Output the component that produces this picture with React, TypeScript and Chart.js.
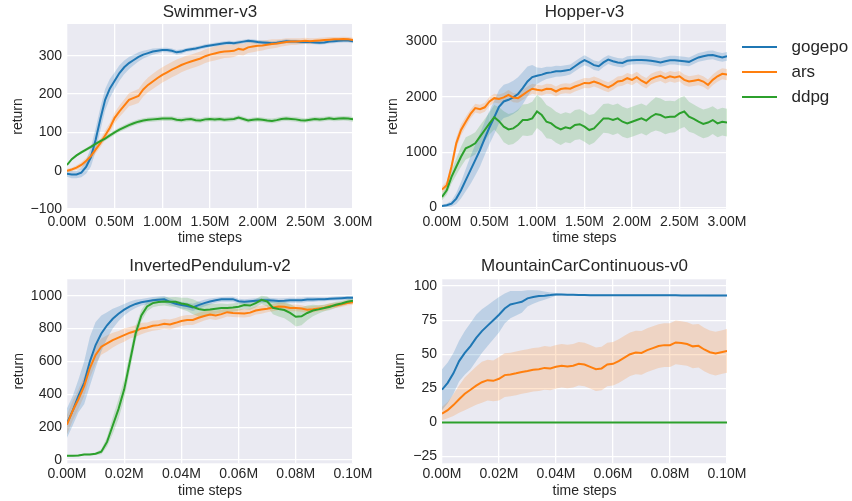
import React, { useEffect, useRef } from 'react';
import { Chart, registerables } from 'chart.js';

Chart.register(...registerables);

// ---------------- data ----------------
const SERIES_NAMES = ['gogepo', 'ars', 'ddpg'];

const TOP_STEPS = [0, 0.05, 0.1, 0.15, 0.2, 0.25, 0.3, 0.35, 0.4, 0.45, 0.5, 0.55, 0.6, 0.65, 0.7, 0.75, 0.8, 0.85, 0.9, 0.95, 1, 1.05, 1.1, 1.15, 1.2, 1.25, 1.3, 1.35, 1.4, 1.45, 1.5, 1.55, 1.6, 1.65, 1.7, 1.75, 1.8, 1.85, 1.9, 1.95, 2, 2.05, 2.1, 2.15, 2.2, 2.25, 2.3, 2.35, 2.4, 2.45, 2.5, 2.55, 2.6, 2.65, 2.7, 2.75, 2.8, 2.85, 2.9, 2.95, 3];
const BOTTOM_STEPS = [0, 0.002, 0.004, 0.006, 0.008, 0.01, 0.012, 0.014, 0.016, 0.018, 0.02, 0.022, 0.024, 0.026, 0.028, 0.03, 0.032, 0.034, 0.036, 0.038, 0.04, 0.042, 0.044, 0.046, 0.048, 0.05, 0.052, 0.054, 0.056, 0.058, 0.06, 0.062, 0.064, 0.066, 0.068, 0.07, 0.072, 0.074, 0.076, 0.078, 0.08, 0.082, 0.084, 0.086, 0.088, 0.09, 0.092, 0.094, 0.096, 0.098, 0.1];

const TOP_X_TICKS = [0, 0.5, 1, 1.5, 2, 2.5, 3];
const BOTTOM_X_TICKS = [0, 0.02, 0.04, 0.06, 0.08, 0.1];
const SWIM_Y_TICKS = [-100, 0, 100, 200, 300];
const HOP_Y_TICKS = [0, 1000, 2000, 3000];
const PEND_Y_TICKS = [0, 200, 400, 600, 800, 1000];
const MC_Y_TICKS = [-25, 0, 25, 50, 75, 100];

// Swimmer-v3
const SWIM_GOGEPO = [-8, -10, -10, -5, 10, 35, 80, 135, 185, 215, 235, 255, 270, 281, 289, 297, 303, 307, 311, 313, 315, 315, 313, 309, 311, 315, 317, 319, 322, 325, 327, 329, 331, 333, 334, 333, 335, 337, 339, 338, 336, 335, 334, 333, 334, 336, 338, 337, 337, 336, 336, 336, 335, 334, 335, 337, 338, 339, 340, 340, 338];
const SWIM_GOGEPO_SD = [8, 10, 10, 12, 18, 25, 30, 30, 28, 25, 22, 20, 18, 16, 14, 12, 10, 9, 8, 7, 6, 6, 6, 6, 6, 5, 5, 5, 5, 5, 5, 5, 5, 5, 5, 5, 5, 5, 5, 5, 5, 5, 5, 5, 5, 5, 5, 5, 5, 5, 5, 5, 5, 5, 5, 5, 5, 5, 5, 5, 5];
const SWIM_ARS = [0, 3, 8, 15, 25, 38, 55, 72, 92, 112, 138, 155, 170, 185, 190, 195, 212, 224, 233, 242, 250, 257, 264, 270, 276, 281, 285, 289, 293, 299, 303, 306, 309, 311, 312, 313, 318, 316, 322, 324, 326, 327, 329, 331, 332, 334, 336, 337, 337, 338, 339, 338, 339, 340, 341, 342, 343, 343, 344, 343, 341];
const SWIM_ARS_SD = [5, 5, 6, 7, 8, 9, 10, 11, 12, 13, 14, 15, 16, 17, 18, 18, 18, 19, 20, 20, 20, 20, 20, 20, 19, 19, 18, 18, 18, 18, 18, 18, 18, 17, 17, 16, 16, 15, 15, 15, 14, 13, 12, 12, 11, 10, 10, 9, 9, 8, 8, 8, 7, 7, 7, 7, 6, 6, 6, 6, 6];
const SWIM_DDPG = [15, 30, 40, 48, 55, 62, 70, 77, 84, 92, 100, 107, 113, 119, 124, 128, 131, 133, 134, 135, 136, 136, 136, 133, 132, 134, 135, 132, 131, 134, 135, 134, 135, 133, 134, 135, 139, 135, 131, 133, 134, 133, 131, 130, 132, 135, 136, 135, 134, 132, 131, 133, 135, 134, 135, 137, 135, 136, 137, 136, 134];
const SWIM_DDPG_SD = [3, 3, 3, 4, 4, 5, 5, 6, 6, 6, 6, 6, 6, 6, 6, 6, 6, 6, 6, 6, 6, 6, 6, 6, 6, 6, 6, 6, 6, 6, 6, 6, 6, 6, 6, 6, 6, 6, 6, 6, 6, 6, 6, 6, 6, 6, 6, 6, 6, 6, 6, 6, 6, 6, 6, 6, 6, 6, 6, 6, 6];

// Hopper-v3
const HOP_GOGEPO = [30, 42, 72, 163, 314, 495, 676, 858, 1040, 1250, 1450, 1630, 1820, 1915, 1945, 1990, 2050, 2155, 2275, 2355, 2380, 2400, 2430, 2440, 2460, 2460, 2475, 2490, 2550, 2610, 2660, 2620, 2570, 2550, 2620, 2670, 2640, 2620, 2610, 2650, 2660, 2665, 2665, 2660, 2650, 2635, 2620, 2640, 2660, 2660, 2650, 2640, 2630, 2670, 2710, 2730, 2750, 2755, 2730, 2710, 2730];
const HOP_GOGEPO_SD = [20, 30, 50, 100, 150, 200, 250, 280, 300, 300, 300, 300, 300, 300, 300, 300, 300, 290, 270, 220, 150, 120, 110, 100, 100, 95, 95, 90, 90, 90, 90, 85, 85, 85, 85, 80, 80, 80, 80, 80, 80, 80, 80, 80, 80, 80, 80, 80, 80, 80, 80, 80, 80, 80, 80, 80, 80, 80, 80, 80, 80];
const HOP_ARS = [326, 405, 737, 1160, 1400, 1550, 1690, 1795, 1775, 1810, 1915, 1975, 1960, 1990, 2035, 1985, 1975, 2035, 2095, 2145, 2125, 2115, 2145, 2140, 2095, 2140, 2155, 2145, 2185, 2215, 2250, 2245, 2275, 2245, 2205, 2170, 2215, 2275, 2290, 2335, 2305, 2355, 2290, 2245, 2320, 2355, 2380, 2335, 2370, 2350, 2370, 2305, 2275, 2290, 2305, 2275, 2215, 2305, 2370, 2415, 2400];
const HOP_ARS_SD = [60, 70, 90, 100, 100, 90, 80, 80, 80, 80, 80, 80, 80, 80, 85, 85, 85, 90, 90, 90, 90, 90, 90, 90, 90, 90, 90, 90, 90, 90, 90, 90, 90, 90, 90, 90, 90, 90, 90, 95, 95, 95, 95, 95, 95, 95, 95, 95, 95, 95, 95, 95, 95, 95, 95, 95, 95, 95, 100, 100, 100];
const HOP_DDPG = [193, 314, 556, 737, 918, 1070, 1110, 1160, 1280, 1400, 1520, 1630, 1560, 1460, 1410, 1430, 1490, 1580, 1580, 1610, 1735, 1670, 1550, 1520, 1450, 1410, 1450, 1430, 1490, 1505, 1460, 1400, 1430, 1520, 1610, 1610, 1580, 1610, 1550, 1520, 1550, 1580, 1610, 1570, 1640, 1690, 1670, 1625, 1640, 1640, 1700, 1735, 1640, 1600, 1550, 1510, 1535, 1580, 1520, 1550, 1535];
const HOP_DDPG_SD = [60, 80, 120, 150, 180, 200, 200, 200, 200, 200, 200, 220, 250, 280, 280, 280, 280, 280, 290, 300, 300, 300, 300, 280, 280, 280, 270, 270, 270, 270, 270, 270, 260, 260, 260, 270, 270, 270, 270, 270, 270, 270, 270, 270, 280, 300, 300, 300, 290, 280, 280, 280, 270, 260, 260, 260, 260, 250, 250, 250, 250];

// InvertedPendulum-v2
const PEND_GOGEPO = [225, 300, 390, 470, 600, 700, 770, 820, 860, 890, 915, 935, 950, 960, 966, 972, 976, 978, 963, 951, 943, 937, 929, 943, 955, 965, 973, 978, 979, 979, 967, 963, 967, 970, 973, 973, 971, 968, 969, 973, 973, 973, 977, 977, 978, 979, 981, 983, 985, 987, 987];
const PEND_GOGEPO_SD = [90, 90, 100, 130, 150, 140, 110, 80, 60, 45, 35, 30, 25, 20, 20, 20, 20, 20, 20, 20, 20, 20, 22, 22, 20, 18, 15, 15, 15, 15, 15, 15, 15, 15, 15, 15, 15, 15, 15, 15, 15, 15, 15, 15, 12, 12, 12, 12, 12, 12, 12];
const PEND_ARS = [215, 300, 370, 450, 560, 640, 690, 710, 730, 745, 760, 775, 785, 801, 807, 817, 821, 829, 825, 835, 846, 852, 852, 866, 877, 886, 880, 888, 900, 895, 894, 892, 897, 910, 916, 921, 928, 935, 933, 925, 926, 922, 915, 918, 923, 927, 937, 941, 948, 955, 960];
const PEND_ARS_SD = [60, 60, 60, 60, 60, 55, 50, 50, 45, 40, 40, 35, 35, 35, 30, 30, 30, 30, 30, 30, 30, 30, 30, 30, 28, 28, 28, 26, 26, 25, 25, 25, 25, 25, 25, 22, 22, 22, 22, 20, 20, 20, 20, 20, 18, 18, 18, 16, 16, 15, 15];
const PEND_DDPG = [26, 26, 28, 34, 34, 38, 50, 110, 210, 310, 430, 600, 770, 880, 935, 955, 962, 965, 963, 963, 953, 947, 933, 919, 913, 916, 921, 925, 925, 928, 933, 943, 940, 955, 975, 965, 927, 919, 913, 895, 872, 875, 895, 910, 917, 925, 933, 945, 953, 963, 969];
const PEND_DDPG_SD = [5, 5, 5, 5, 5, 8, 15, 30, 50, 60, 60, 55, 45, 35, 30, 25, 25, 25, 28, 30, 35, 40, 45, 45, 40, 35, 30, 28, 25, 25, 25, 25, 25, 25, 25, 30, 40, 45, 50, 55, 60, 55, 45, 35, 25, 20, 20, 18, 15, 15, 15];

// MountainCarContinuous-v0
const MC_GOGEPO = [24, 29, 36, 45, 51, 56, 62, 67, 71, 75, 79, 83.6, 86.5, 87.5, 88.5, 91, 92, 92.7, 93, 93.4, 93.9, 93.8, 93.7, 93.6, 93.5, 93.4, 93.3, 93.3, 93.3, 93.3, 93.3, 93.3, 93.3, 93.3, 93.3, 93.3, 93.3, 93.3, 93.3, 93.3, 93.3, 93.3, 93.2, 93.2, 93.2, 93.2, 93.2, 93.1, 93.1, 93.1, 93.1];
const MC_GOGEPO_SD = [15, 15, 15, 15, 16, 17, 17, 16, 15, 14, 13, 11, 10, 9, 8, 6, 5, 4, 3, 2, 1, 0.6, 0.5, 0.5, 0.5, 0.5, 0.5, 0.5, 0.5, 0.5, 0.5, 0.5, 0.5, 0.5, 0.5, 0.5, 0.5, 0.5, 0.5, 0.5, 0.5, 0.5, 0.5, 0.5, 0.5, 0.5, 0.5, 0.5, 0.5, 0.5, 0.5];
const MC_ARS = [6.5, 9, 12.7, 17, 21, 24, 27, 29.5, 31, 30.5, 32, 34.7, 35.2, 36, 37, 37.7, 38.6, 39, 40, 39.6, 40.8, 41.6, 41, 41.6, 43, 42.5, 40.8, 39, 39.6, 42.5, 43, 45, 47.5, 50, 51.3, 51, 53, 54.5, 56, 56.7, 56.7, 58.7, 58.2, 57.5, 55.8, 56.2, 53.5, 51.5, 50.5, 51.5, 52.5];
const MC_ARS_SD = [5, 6, 8, 10, 12, 13, 14, 15, 15, 15, 16, 16, 16, 16, 16, 16, 16, 16, 16, 16, 16, 16, 16, 16, 16, 16, 16, 16, 16, 16, 16, 16, 16, 16, 16, 16, 16, 16, 16, 16, 16, 16, 16, 16, 16, 16, 16, 16, 16, 16, 16];
const MC_DDPG = [0, 0, 0, 0, 0, 0, 0, 0, 0, 0, 0, 0, 0, 0, 0, 0, 0, 0, 0, 0, 0, 0, 0, 0, 0, 0, 0, 0, 0, 0, 0, 0, 0, 0, 0, 0, 0, 0, 0, 0, 0, 0, 0, 0, 0, 0, 0, 0, 0, 0, 0];
const MC_DDPG_SD = [0.2, 0.2, 0.2, 0.2, 0.2, 0.2, 0.2, 0.2, 0.2, 0.2, 0.2, 0.2, 0.2, 0.2, 0.2, 0.2, 0.2, 0.2, 0.2, 0.2, 0.2, 0.2, 0.2, 0.2, 0.2, 0.2, 0.2, 0.2, 0.2, 0.2, 0.2, 0.2, 0.2, 0.2, 0.2, 0.2, 0.2, 0.2, 0.2, 0.2, 0.2, 0.2, 0.2, 0.2, 0.2, 0.2, 0.2, 0.2, 0.2, 0.2, 0.2];

// ---------------- styles ----------------
const FONT = "'Liberation Sans', Arial, Helvetica, sans-serif";
const TEXT = '#262626';
const COLORS = ['#1f77b4', '#ff7f0e', '#2ca02c'];
const BANDS = ['rgba(31,119,180,0.22)', 'rgba(255,127,14,0.2)', 'rgba(44,160,44,0.2)'];

const PANELS = [
  {
    title: 'Swimmer-v3', steps: TOP_STEPS, means: [SWIM_GOGEPO, SWIM_ARS, SWIM_DDPG], sds: [SWIM_GOGEPO_SD, SWIM_ARS_SD, SWIM_DDPG_SD],
    xTicks: TOP_X_TICKS, yTicks: SWIM_Y_TICKS, xMin: 0, xMax: 3, yMin: -100, yMax: 383,
    box: { left: 0, top: 0, w: 400, h: 250 }, yAxisW: 67, padRight: 47, titlePad: { top: 2.1, bottom: 1.5 }, xAxisH: 41, xTickPad: 4.5, xTitlePadB: 3.9, yTitlePadT: 10,
  },
  {
    title: 'Hopper-v3', steps: TOP_STEPS, means: [HOP_GOGEPO, HOP_ARS, HOP_DDPG], sds: [HOP_GOGEPO_SD, HOP_ARS_SD, HOP_DDPG_SD],
    xTicks: TOP_X_TICKS, yTicks: HOP_Y_TICKS, xMin: 0, xMax: 3, yMin: -25, yMax: 3313,
    box: { left: 370, top: 0, w: 482, h: 250 }, yAxisW: 72, padRight: 125, titlePad: { top: 2.1, bottom: 1.5 }, xAxisH: 41, xTickPad: 4.5, xTitlePadB: 3.9, yTitlePadT: 14.3,
  },
  {
    title: 'InvertedPendulum-v2', steps: BOTTOM_STEPS, means: [PEND_GOGEPO, PEND_ARS, PEND_DDPG], sds: [PEND_GOGEPO_SD, PEND_ARS_SD, PEND_DDPG_SD],
    xTicks: BOTTOM_X_TICKS, yTicks: PEND_Y_TICKS, xMin: 0, xMax: 0.1, yMin: -20, yMax: 1100,
    box: { left: 0, top: 250, w: 400, h: 251 }, yAxisW: 67, padRight: 47, titlePad: { top: 5.8, bottom: 3.1 }, xAxisH: 37.7, xTickPad: 2, xTitlePadB: 1.9, yTitlePadT: 10.3,
  },
  {
    title: 'MountainCarContinuous-v0', steps: BOTTOM_STEPS, means: [MC_GOGEPO, MC_ARS, MC_DDPG], sds: [MC_GOGEPO_SD, MC_ARS_SD, MC_DDPG_SD],
    xTicks: BOTTOM_X_TICKS, yTicks: MC_Y_TICKS, xMin: 0, xMax: 0.1, yMin: -30, yMax: 105,
    box: { left: 370, top: 250, w: 482, h: 251 }, yAxisW: 72, padRight: 125, titlePad: { top: 5.8, bottom: 3.1 }, xAxisH: 37.7, xTickPad: 2, xTitlePadB: 1.9, yTitlePadT: 22.1,
  },
];

const plotBg = {
  id: 'plotBg',
  beforeDraw(chart: any) {
    const { ctx, chartArea } = chart;
    if (!chartArea) return;
    ctx.save();
    ctx.fillStyle = '#EAEAF2';
    ctx.fillRect(chartArea.left, chartArea.top, chartArea.right - chartArea.left, chartArea.bottom - chartArea.top);
    ctx.restore();
  },
};

function fmtY(v: number) {
  return v < 0 ? '\u2212' + Math.abs(v) : String(v);
}

function Panel({ p }: { p: any }) {
  const ref = useRef<HTMLCanvasElement | null>(null);
  useEffect(() => {
    if (!ref.current) return;
    const datasets: any[] = [];
    p.means.forEach((mean: number[], s: number) => {
      const sd = p.sds[s];
      datasets.push({
        label: SERIES_NAMES[s] + ' upper',
        data: p.steps.map((x: number, i: number) => ({ x, y: mean[i] + sd[i] })),
        borderColor: 'transparent', borderWidth: 0, pointRadius: 0, backgroundColor: BANDS[s], fill: '+1', order: 10,
      });
      datasets.push({
        label: SERIES_NAMES[s] + ' lower',
        data: p.steps.map((x: number, i: number) => ({ x, y: mean[i] - sd[i] })),
        borderColor: 'transparent', borderWidth: 0, pointRadius: 0, fill: false, order: 10,
      });
    });
    p.means.forEach((mean: number[], s: number) => {
      datasets.push({
        label: SERIES_NAMES[s],
        data: p.steps.map((x: number, i: number) => ({ x, y: mean[i] })),
        borderColor: COLORS[s], borderWidth: 2, pointRadius: 0, fill: false, order: 3 - s,
      });
    });
    const tickFont = { size: 14, family: FONT };
    const chart = new Chart(ref.current, {
      type: 'line',
      data: { datasets },
      plugins: [plotBg],
      options: {
        responsive: false,
        animation: false,
        events: [],
        layout: { padding: { left: 0, right: p.padRight, top: 0, bottom: 0 } },
        plugins: {
          legend: { display: false },
          tooltip: { enabled: false },
          filler: { drawTime: 'beforeDatasetsDraw' },
          title: {
            display: true, text: p.title, color: TEXT, fullSize: false,
            font: { size: 17, family: FONT, weight: 'normal' }, padding: p.titlePad,
          },
        },
        scales: {
          x: {
            type: 'linear', min: p.xMin, max: p.xMax,
            afterBuildTicks: (s: any) => { s.ticks = p.xTicks.map((v: number) => ({ value: v })); },
            afterFit: (s: any) => { s.height = p.xAxisH; s.paddingLeft = 0; s.paddingRight = 0; },
            ticks: { callback: (v: any) => Number(v).toFixed(2) + 'M', color: TEXT, font: tickFont, padding: p.xTickPad, maxRotation: 0, autoSkip: false },
            grid: { color: '#ffffff', lineWidth: 1.3, drawTicks: false },
            border: { display: false },
            title: { display: true, text: 'time steps', color: TEXT, font: tickFont, padding: { top: 0, bottom: p.xTitlePadB } },
          },
          y: {
            type: 'linear', min: p.yMin, max: p.yMax,
            afterBuildTicks: (s: any) => { s.ticks = p.yTicks.map((v: number) => ({ value: v })); },
            afterFit: (s: any) => { s.width = p.yAxisW; s.paddingTop = 0; s.paddingBottom = 0; },
            ticks: { callback: (v: any) => fmtY(Number(v)), color: TEXT, font: tickFont, padding: 5, autoSkip: false },
            grid: { color: '#ffffff', lineWidth: 1.3, drawTicks: false },
            border: { display: false },
            title: { display: true, text: 'return', color: TEXT, font: tickFont, padding: { top: p.yTitlePadT, bottom: 0 } },
          },
        },
      } as any,
    });
    return () => chart.destroy();
  }, [p]);
  return (
    <canvas
      ref={ref}
      width={p.box.w}
      height={p.box.h}
      style={{ position: 'absolute', left: p.box.left, top: p.box.top, width: p.box.w + 'px', height: p.box.h + 'px' }}
    />
  );
}

const LEGEND_ROWS_Y = [46.7, 72, 96.7];

export default function App() {
  return (
    <div style={{ position: 'absolute', left: 0, top: 0, width: 852, height: 501, background: '#ffffff', overflow: 'hidden' }}>
      {PANELS.map((p, i) => <Panel key={i} p={p} />)}
      {SERIES_NAMES.map((name, i) => (
        <div key={name} style={{ position: 'absolute', left: 741.5, top: LEGEND_ROWS_Y[i] - 12, height: 24, display: 'flex', alignItems: 'center' }}>
          <div style={{ width: 35, height: 2, background: COLORS[i] }} />
          <span style={{ marginLeft: 15, fontFamily: FONT, fontSize: 17, color: TEXT, lineHeight: '24px' }}>{name}</span>
        </div>
      ))}
    </div>
  );
}
